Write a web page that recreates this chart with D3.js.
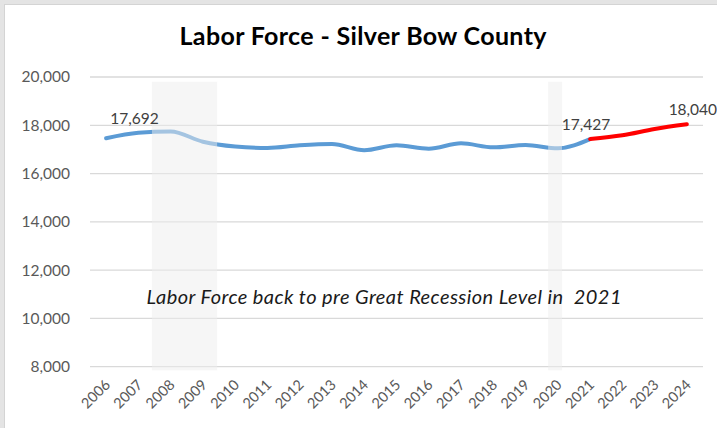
<!DOCTYPE html>
<html><head><meta charset="utf-8">
<script src="https://cdn.jsdelivr.net/npm/d3@7"></script>
<style>
html,body{margin:0;padding:0;background:#e4e4e4;}
svg{display:block;}
</style></head>
<body>
<svg id="chart" width="717" height="428"></svg>
<script>
// ---- data ----
const years = ["2006","2007","2008","2009","2010","2011","2012","2013","2014","2015","2016","2017","2018","2019","2020","2021","2022","2023","2024"];
const laborForce = [17465,17692,17740,17320,17120,17060,17170,17225,16965,17170,17030,17252,17086,17183,17045,17427,17585,17846,18040];
const actualEnd = "2021";           // last actual year; later years are projected (red)
const labeledYears = ["2007","2021","2024"];
const yTicks = [8000,10000,12000,14000,16000,18000,20000];
const recessions = [[2007.42, 2009.44],[2019.70, 2020.13]]; // shaded periods in year units
const title = "Labor Force - Silver Bow County";
const note = "Labor Force back to pre Great Recession Level in  2021";

// ---- layout ----
const W = 717, H = 428;
const plot = {left: 90, right: 703, top: 77, bottom: 366.7};
const svg = d3.select("#chart");
const font = "Lato, 'Open Sans', sans-serif";

// chart area frame
svg.append("rect").attr("x",4.5).attr("y",4.5).attr("width",W).attr("height",H)
  .attr("fill","#ffffff").attr("stroke","#d4d4d4").attr("stroke-width",1);

const x = d3.scaleBand().domain(years).range([plot.left, plot.right]);
const xc = d => x(d) + x.bandwidth()/2;
const xYear = d3.scaleLinear().domain([2006, 2024]).range([xc("2006"), xc("2024")]);
const y = d3.scaleLinear().domain([8000, 20000]).range([plot.bottom, plot.top]);

// gridlines
svg.append("g").selectAll("line").data(yTicks).join("line")
  .attr("x1", plot.left).attr("x2", plot.right)
  .attr("y1", d => y(d)).attr("y2", d => y(d))
  .attr("stroke","#d9d9d9").attr("stroke-width",1.3);

// y axis labels
const yAxis = d3.axisLeft(y).tickValues(yTicks).tickFormat(d3.format(",")).tickSize(0).tickPadding(20);
svg.append("g").attr("transform",`translate(${plot.left},0)`).call(yAxis)
  .call(g => g.select(".domain").remove())
  .call(g => g.selectAll("text").attr("font-family",font).attr("font-size",15.5).attr("fill","#595959"));

// x axis labels
const xAxis = d3.axisBottom(x).tickSize(0).tickPadding(0);
svg.append("g").attr("transform",`translate(0,${plot.bottom})`).call(xAxis)
  .call(g => g.select(".domain").remove())
  .call(g => g.selectAll("text")
     .attr("font-family",font).attr("font-size",14.5).attr("fill","#595959")
     .attr("text-anchor","end").attr("dy",0).attr("y",0)
     .attr("transform","translate(5,19) rotate(-45)"));

// line (actual) and projection
const idxEnd = years.indexOf(actualEnd);
const pts = years.map((yr,i)=>({yr, v: laborForce[i]}));
const line = d3.line().x(d=>xc(d.yr)).y(d=>y(d.v)).curve(d3.curveMonotoneX);
svg.append("path").datum(pts.slice(0, idxEnd+1)).attr("d", line)
  .attr("fill","none").attr("stroke","#5b9bd5").attr("stroke-width",4).attr("stroke-linecap","round");
svg.append("path").datum(pts.slice(idxEnd)).attr("d", line)
  .attr("fill","none").attr("stroke","#ff0000").attr("stroke-width",4).attr("stroke-linecap","round");

// recession shading (drawn over the line, semi-transparent)
svg.append("g").selectAll("rect").data(recessions).join("rect")
  .attr("x", d => xYear(d[0])).attr("width", d => xYear(d[1]) - xYear(d[0]))
  .attr("y", y(19800)).attr("height", y(7850) - y(19800))
  .attr("fill","rgb(238,238,238)").attr("opacity",0.5);

// data labels
svg.append("g").selectAll("text").data(pts.filter(d=>labeledYears.includes(d.yr))).join("text")
  .attr("x", d => xc(d.yr) - 4 + (d.yr==="2024"?10:0)).attr("y", d => y(d.v) - 9)
  .attr("text-anchor","middle").attr("font-family",font).attr("font-size",15.5).attr("fill","#404040")
  .text(d => d3.format(",")(d.v));

// title
svg.append("text").attr("x",363).attr("y",45).attr("text-anchor","middle")
  .attr("font-family",font).attr("font-weight","bold").attr("font-size",25).attr("fill","#000")
  .attr("textLength",367).attr("lengthAdjust","spacing")
  .text(title);

// annotation
svg.append("text").attr("x",384).attr("y",304).attr("text-anchor","middle")
  .attr("font-family",font).attr("font-style","italic").attr("font-size",20).attr("fill","#1a1a1a")
  .attr("xml:space","preserve").style("white-space","pre")
  .attr("textLength",475).attr("lengthAdjust","spacing")
  .text(note);
</script>
</body></html>
